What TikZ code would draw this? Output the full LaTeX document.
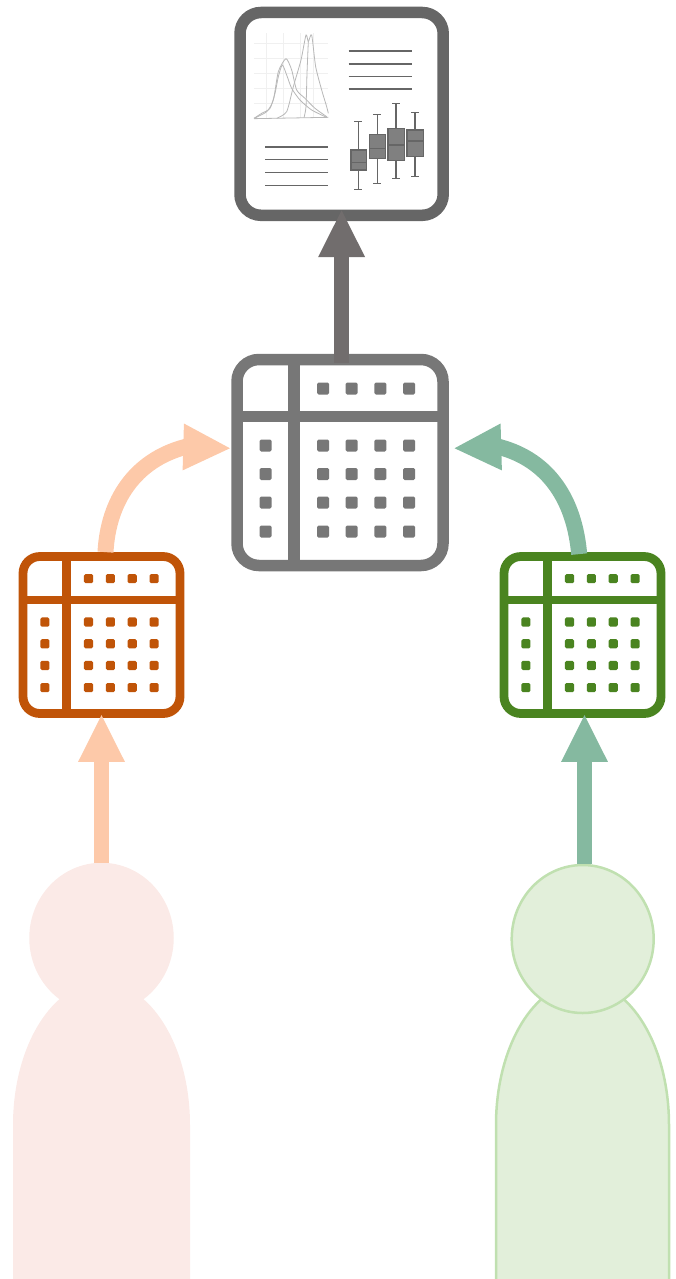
\documentclass[tikz,border=0pt]{standalone}
\usepackage{xcolor}
\usetikzlibrary{shapes.geometric, arrows.meta, positioning}
\definecolor{cRust}{RGB}{192,84,8}
\definecolor{cLeaf}{RGB}{74,132,32}
\definecolor{cSlate}{RGB}{119,119,119}
\definecolor{cFrame}{RGB}{102,102,102}
\definecolor{cPeach}{RGB}{253,201,169}
\definecolor{cTeal}{RGB}{133,185,160}
\definecolor{cStem}{RGB}{113,109,109}
\definecolor{cBlush}{RGB}{251,234,231}
\definecolor{cMoss}{RGB}{226,239,218}
\definecolor{cMossline}{RGB}{192,224,176}
\tikzset{
	% icon styles
	tablebox/.style={rectangle, inner sep=0pt, fill=white},
	reportbox/.style={rectangle, draw=cFrame, line width=11.5pt, rounded corners=21pt, inner sep=0pt, fill=white,
		minimum width=203.2pt, minimum height=202.8pt},
	textline/.style={cFrame, line width=1.2pt},
	trace/.style={black!28, line width=.8pt},
	% people
	headblob/.style={ellipse, inner sep=0pt, minimum width=142pt, minimum height=148pt},
	% arrows
	flowarrow/.style={-{Triangle[length=48pt,width=43pt]}, line width=14.5pt},
	bendarrow/.style={flowarrow, line width=16pt},
}
\begin{document}
\begin{tikzpicture}[x=1pt, y=-1pt]
	\useasboundingbox (0,0) rectangle (675,1279);
	% people
	\fill[cBlush] (13,1285) -- (13,1125) arc[start angle=180, end angle=360, x radius=88.5, y radius=143] -- (190,1285) -- cycle;
	\filldraw[cMoss, draw=cMossline, line width=2.5pt] (496,1285) -- (496,1125) arc[start angle=180, end angle=360, x radius=86.5, y radius=143] -- (669,1285);
	\node[headblob, draw=cBlush, fill=cBlush, line width=2.5pt] (headL) at (101.5,938) {};
	\node[headblob, draw=cMossline, fill=cMoss, line width=2.5pt] (headR) at (582.7,939) {};
	% tables
	\foreach \nm/\xc/\yc/\col/\sz/\lw in {tabL/101.5/635/cRust/.762/8.8, tabR/582.5/635/cLeaf/.762/8.8, tabC/340/462.5/cSlate/1/11.5} {
		\node[tablebox, draw=\col, line width=\lw pt, rounded corners=\sz*22pt, minimum size=\sz*206pt] (\nm) at (\xc,\yc) {};
		\begin{scope}[shift={(\xc,\yc)}, scale=\sz]
			\draw[\col, line width=\lw pt] (-46,-103) -- (-46,103) (-103,-46) -- (103,-46);
			\foreach \dx in {-17,11.7,40.3,69} {
				\fill[\col, rounded corners=1.5pt] (\dx-6,-80) rectangle (\dx+6,-68);
				\foreach \dy in {-17,11.5,40,69}
					\fill[\col, rounded corners=1.5pt] (\dx-6,\dy-6) rectangle (\dx+6,\dy+6);
			}
			\foreach \dy in {-17,11.5,40,69}
				\fill[\col, rounded corners=1.5pt] (-80.3,\dy-6) rectangle (-68.3,\dy+6);
		\end{scope}
	}
	% report
	\node[reportbox] (rep) at (341.6,113.9) {};
	\begin{scope}[shift={(225,0)}, scale=1/3]
		\foreach \yy in {130,175,220,265,310}
			\draw[black!6, line width=.4pt] (87,\yy) -- (310,\yy);
		\foreach \xx in {125,175,225,265}
			\draw[black!6, line width=.4pt] (\xx,100) -- (\xx,355);
		\draw[trace] (87,356) -- (310,352);
		\draw[trace] plot[smooth, tension=.4] coordinates {(87,355) (110,340) (135,325) (150,280) (160,230) (172,195) (185,225) (200,265) (225,300) (260,330) (305,352)};
		\draw[trace] plot[smooth, tension=.4] coordinates {(87,355) (125,335) (145,300) (160,215) (183,176) (200,210) (215,270) (240,295) (270,325) (305,350)};
		\draw[trace] plot[smooth, tension=.4] coordinates {(155,355) (185,335) (205,260) (228,180) (243,105) (250,125) (260,105) (272,200) (290,270) (305,320) (310,340)};
		\draw[trace] plot[smooth, tension=.4] coordinates {(237,353) (243,320) (246,220) (250,125)};
		\foreach \yy in {153,192,230,267}
			\draw[textline] (371,\yy) -- (560,\yy);
		\foreach \yy in {441,479,517,556}
			\draw[textline] (120,\yy) -- (310,\yy);
		\foreach \xm/\xa/\xb/\wa/\wb/\ba/\bb/\med in {400/378/424/365/568/450/510/488, 457/433/481/344/550/403/475/445, 513/489/538/311/535/386/482/435, 570/546/595/338/529/390/470/423} {
			\draw[cFrame, line width=1.1pt] (\xm,\wa) -- (\xm,\wb) (\xm-12,\wa) -- (\xm+12,\wa) (\xm-12,\wb) -- (\xm+12,\wb);
			\filldraw[fill=black!50, draw=cFrame, line width=1.1pt] (\xa,\ba) rectangle (\xb,\bb);
			\draw[cFrame, line width=1.1pt] (\xa,\med) -- (\xb,\med);
		}
	\end{scope}
	% arrows
	\draw[flowarrow, cPeach, shorten >=-4pt] (headL.north) -- (tabL.south);
	\draw[flowarrow, cTeal, shorten >=-4pt] ([xshift=1.8pt]headR.north) -- ([xshift=2pt]tabR.south);
	\draw[bendarrow, cPeach] ([xshift=4pt]tabL.north) to[out=87, in=195] ([xshift=-46.25pt,yshift=15.5pt]tabC.west) -- ([yshift=14.2pt]tabC.west);
	\draw[bendarrow, cTeal, shorten <=-2pt] ([xshift=-3.5pt]tabR.north) to[out=95, in=-15] ([xshift=50.65pt,yshift=15.5pt]tabC.east) -- ([xshift=4.5pt,yshift=14.2pt]tabC.east);
	\draw[flowarrow, cStem, shorten <=-9pt, shorten >=-12pt] (rep.south |- tabC.north) -- (rep.south);
\end{tikzpicture}
\end{document}
